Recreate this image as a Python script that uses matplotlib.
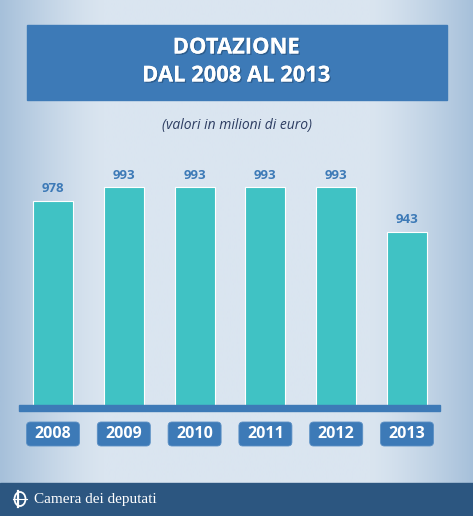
import matplotlib
matplotlib.use("Agg")
import matplotlib.pyplot as plt
import matplotlib.patheffects as pe
import numpy as np
from matplotlib.colors import LinearSegmentedColormap
from matplotlib.patches import Rectangle, Ellipse, FancyBboxPatch

# ---- data ----
years = ["2008", "2009", "2010", "2011", "2012", "2013"]
values = [978, 993, 993, 993, 993, 943]

title_lines = ["DOTAZIONE", "DAL 2008 AL 2013"]
subtitle = "(valori in milioni di euro)"
footer = "Camera dei deputati"

BLUE = "#3d7ab7"
TEAL = "#40c2c4"
NAVY = "#2c5680"
W, H = 473, 516

fig = plt.figure(figsize=(W / 100, H / 100), dpi=100)

# background: horizontal gradient, darker at the side edges
bg = fig.add_axes([0, 0, 1, 1], zorder=-10)
bg.set_axis_off()
xs = np.linspace(0, 1, 400)
edge = np.clip(np.maximum((0.22 - xs) / 0.22, (xs - 0.78) / 0.22), 0, 1) ** 1.3
cmap = LinearSegmentedColormap.from_list("bg", ["#dae5f0", "#a6c0da"])
bg.imshow(edge[None, :], cmap=cmap, aspect="auto", extent=[0, 1, 0, 1],
          vmin=0, vmax=1)
bg.set_xlim(0, 1)
bg.set_ylim(0, 1)


def fx(px):
    return px / W


def fy(py):
    return 1 - py / H


shadow = [pe.withSimplePatchShadow(offset=(1, -1), shadow_rgbFace="#1d3c5e",
                                   alpha=0.45), pe.Normal()]

# title box
fig.patches.append(Rectangle((fx(27), fy(100)), fx(420), 75 / H,
                             transform=fig.transFigure, color=BLUE, zorder=1))
for line, ypx in zip(title_lines, (48, 76)):
    fig.text(0.5, fy(ypx), line, ha="center", va="center", color="white",
             fontsize=15.8, fontweight="bold", family="Open Sans", zorder=2,
             path_effects=shadow)
fig.text(0.5, fy(125), subtitle, ha="center", va="center", color="#2d3d62",
         fontsize=10, style="italic", family="Open Sans")

# bar chart
ax = fig.add_axes([fx(19), fy(405), fx(421), (405 - 165) / H])
ax.patch.set_alpha(0)
x = np.arange(len(years))
x0 = (19 - 53) / 70.8
x1 = (440 - 53) / 70.8
bars = ax.bar(x, values, width=0.565, color=TEAL, edgecolor="white",
              linewidth=0.8)
ax.set_xlim(x0, x1)
ax.set_ylim(748, 748 + 240 / 0.888)
for s in ax.spines.values():
    s.set_visible(False)
ax.set_xticks([])
ax.set_yticks([])
for xi, v in zip(x, values):
    ax.annotate(str(v), (xi, v), xytext=(0, 4), textcoords="offset points",
                ha="center", va="bottom", color=BLUE, fontsize=9.5,
                fontweight="bold", family="Open Sans")

# baseline
fig.patches.append(Rectangle((fx(19), fy(411)), fx(421), 6 / H,
                             transform=fig.transFigure, color=BLUE, zorder=3))

# year labels in rounded boxes (fixed pixel size, centred under each bar)
cy = H - 434
for xi, y in zip(x, years):
    cx = ax.transData.transform((xi, 750))[0]
    box = FancyBboxPatch((cx - 26.5, cy - 12), 53, 24,
                         boxstyle="round,pad=0,rounding_size=4",
                         transform=None, fc=BLUE, ec="#5a8fc4", lw=0.6,
                         zorder=3)
    fig.patches.append(box)
    fig.text(cx / W, cy / H, y, ha="center", va="center", color="white",
             fontsize=11.5, fontweight="bold", family="Open Sans", zorder=4)

# footer
fig.patches.append(Rectangle((0, 0), 1, fy(483), transform=fig.transFigure,
                             color=NAVY, zorder=1))
fig.text(fx(34), fy(499), footer, ha="left", va="center", color="white",
         fontsize=11, family="Liberation Serif", zorder=2)
# simple logo mark
fig.patches.append(Ellipse((fx(20), fy(499)), fx(11), 14 / H,
                           transform=fig.transFigure, fill=False, ec="white",
                           lw=1.3, zorder=2))
fig.lines.append(plt.Line2D([fx(17.5), fx(17.5)], [fy(491), fy(507)],
                            transform=fig.transFigure, color="white", lw=1.6,
                            zorder=2))
fig.lines.append(plt.Line2D([fx(13), fx(27)], [fy(499), fy(499)],
                            transform=fig.transFigure, color="white", lw=0.8,
                            zorder=2))

fig.savefig("out.png", dpi=100)
